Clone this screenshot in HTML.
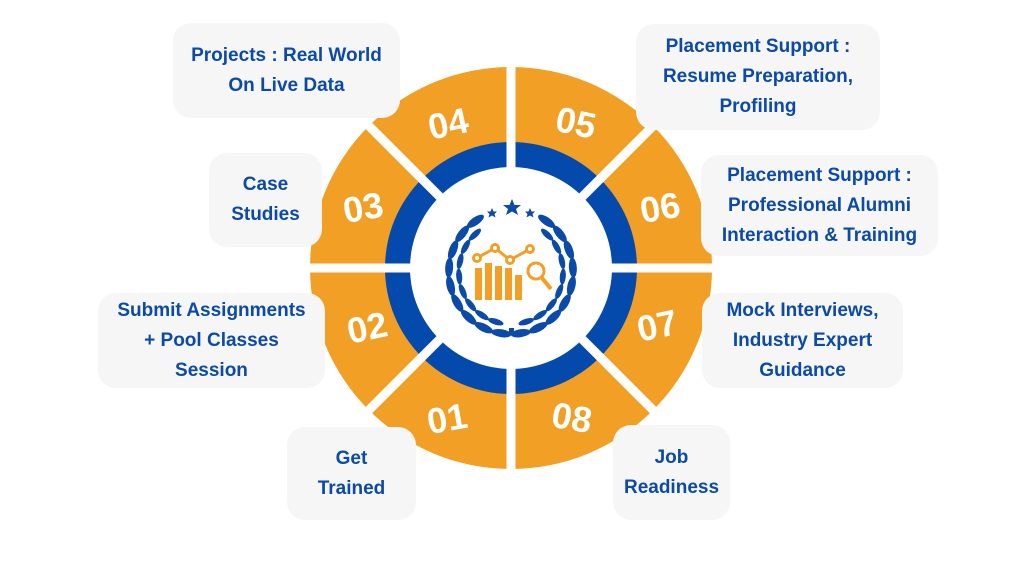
<!DOCTYPE html>
<html><head><meta charset="utf-8"><style>
html,body{margin:0;padding:0;background:#fff;}
body{width:1024px;height:576px;overflow:hidden;position:relative;font-family:"Liberation Sans",sans-serif;}
svg{position:absolute;left:0;top:0;}
.b{position:absolute;background:#f6f6f6;border-radius:18px;color:#0b4aa8;font-weight:bold;font-size:19px;line-height:30px;text-align:center;display:flex;align-items:center;justify-content:center;}
</style></head><body>
<svg width="1024" height="576" viewBox="0 0 1024 576">
<circle cx="511" cy="268" r="201" fill="#f29f26"/>
<circle cx="511" cy="268" r="126" fill="#044aad"/>
<g stroke="#fff" stroke-width="9">
<line x1="511" y1="60" x2="511" y2="476"/>
<line x1="303" y1="268" x2="719" y2="268"/>
<line x1="364" y1="121" x2="658" y2="415"/>
<line x1="658" y1="121" x2="364" y2="415"/>
</g>
<circle cx="511" cy="268" r="101" fill="#fff"/>
<g fill="#fff">
<polygon points="470,186 488,177 484,194"/><polygon points="552,186 534,177 538,194"/>
<polygon points="430,227 439,209 447,225"/><polygon points="592,227 583,209 575,225"/>
<polygon points="430,309 439,327 447,311"/><polygon points="592,309 583,327 575,311"/>
<polygon points="470,350 488,359 484,342"/><polygon points="552,350 534,359 538,342"/>
</g>
<g fill="#fff" font-family="Liberation Sans,sans-serif" font-weight="bold" font-size="36" text-anchor="middle">
<text x="448" y="136" transform="rotate(-12 448 123)">04</text>
<text x="576" y="135" transform="rotate(12 576 122)">05</text>
<text x="363" y="220" transform="rotate(-10 363 207)">03</text>
<text x="660" y="220" transform="rotate(-10 660 207)">06</text>
<text x="367" y="340" transform="rotate(-12 367 327)">02</text>
<text x="657" y="338" transform="rotate(-12 657 325)">07</text>
<text x="447" y="431" transform="rotate(-10 447 418)">01</text>
<text x="572" y="430" transform="rotate(10 572 417)">08</text>
</g>
<g fill="#0b4aa8">
<polygon points="512,199 514.5,205 521,205 516,209 518,215 512,211.5 506,215 508,209 503,205 509.5,205"/>
<polygon points="492,208 493.5,211.5 497,211.5 494.5,214 495.5,217.5 492,215.5 488.5,217.5 489.5,214 487,211.5 490.5,211.5"/>
<polygon points="530,208 531.5,211.5 535,211.5 532.5,214 533.5,217.5 530,215.5 526.5,217.5 527.5,214 525,211.5 528.5,211.5"/>
</g>
<g fill="#0b4aa8" id="lv">
<ellipse cx="573" cy="272" rx="4" ry="10" transform="rotate(-55 511 272)"/>
<ellipse cx="573" cy="272" rx="4" ry="10" transform="rotate(-38 511 272)"/>
<ellipse cx="573" cy="272" rx="4" ry="10" transform="rotate(-21 511 272)"/>
<ellipse cx="573" cy="272" rx="4" ry="10" transform="rotate(-4 511 272)"/>
<ellipse cx="573" cy="272" rx="4" ry="10" transform="rotate(13 511 272)"/>
<ellipse cx="573" cy="272" rx="4" ry="10" transform="rotate(30 511 272)"/>
<ellipse cx="573" cy="272" rx="4" ry="10" transform="rotate(47 511 272)"/>
<ellipse cx="573" cy="272" rx="4" ry="10" transform="rotate(64 511 272)"/>
<ellipse cx="573" cy="272" rx="4" ry="10" transform="rotate(81 511 272)"/>
<ellipse cx="573" cy="272" rx="4" ry="10" transform="rotate(235 511 272)"/>
<ellipse cx="573" cy="272" rx="4" ry="10" transform="rotate(218 511 272)"/>
<ellipse cx="573" cy="272" rx="4" ry="10" transform="rotate(201 511 272)"/>
<ellipse cx="573" cy="272" rx="4" ry="10" transform="rotate(184 511 272)"/>
<ellipse cx="573" cy="272" rx="4" ry="10" transform="rotate(167 511 272)"/>
<ellipse cx="573" cy="272" rx="4" ry="10" transform="rotate(150 511 272)"/>
<ellipse cx="573" cy="272" rx="4" ry="10" transform="rotate(133 511 272)"/>
<ellipse cx="573" cy="272" rx="4" ry="10" transform="rotate(116 511 272)"/>
<ellipse cx="573" cy="272" rx="4" ry="10" transform="rotate(99 511 272)"/>
<ellipse cx="563" cy="272" rx="3" ry="8" transform="rotate(-46 511 272)"/>
<ellipse cx="563" cy="272" rx="3" ry="8" transform="rotate(-29 511 272)"/>
<ellipse cx="563" cy="272" rx="3" ry="8" transform="rotate(-12 511 272)"/>
<ellipse cx="563" cy="272" rx="3" ry="8" transform="rotate(5 511 272)"/>
<ellipse cx="563" cy="272" rx="3" ry="8" transform="rotate(22 511 272)"/>
<ellipse cx="563" cy="272" rx="3" ry="8" transform="rotate(39 511 272)"/>
<ellipse cx="563" cy="272" rx="3" ry="8" transform="rotate(56 511 272)"/>
<ellipse cx="563" cy="272" rx="3" ry="8" transform="rotate(73 511 272)"/>
<ellipse cx="563" cy="272" rx="3" ry="8" transform="rotate(226 511 272)"/>
<ellipse cx="563" cy="272" rx="3" ry="8" transform="rotate(209 511 272)"/>
<ellipse cx="563" cy="272" rx="3" ry="8" transform="rotate(192 511 272)"/>
<ellipse cx="563" cy="272" rx="3" ry="8" transform="rotate(175 511 272)"/>
<ellipse cx="563" cy="272" rx="3" ry="8" transform="rotate(158 511 272)"/>
<ellipse cx="563" cy="272" rx="3" ry="8" transform="rotate(141 511 272)"/>
<ellipse cx="563" cy="272" rx="3" ry="8" transform="rotate(124 511 272)"/>
<ellipse cx="563" cy="272" rx="3" ry="8" transform="rotate(107 511 272)"/>
<rect x="509" y="328" width="5" height="7"/>
</g>
<g fill="#f29f26">
<rect x="475" y="268" width="7" height="32"/><rect x="485" y="263" width="7" height="37"/>
<rect x="495" y="266" width="7" height="34"/><rect x="505" y="268" width="7" height="32"/>
<rect x="515" y="275" width="7" height="25"/>
</g>
<g fill="none" stroke="#f29f26" stroke-width="3">
<polyline points="477,258 495,248 510,260 530,249"/>
<circle cx="477" cy="258" r="3.5" fill="#fff"/><circle cx="495" cy="248" r="3.5" fill="#fff"/>
<circle cx="510" cy="260" r="3.5" fill="#fff"/><circle cx="530" cy="249" r="3.5" fill="#fff"/>
<circle cx="536" cy="271" r="8" fill="#fff"/>
<line x1="542" y1="278" x2="551" y2="289" stroke-width="4"/>
</g>
</svg>
<div class="b" style="left:173px;top:23px;width:227px;height:95px;">Projects : Real World<br>On Live Data</div>
<div class="b" style="left:636px;top:24px;width:244px;height:106px;">Placement Support :<br>Resume Preparation,<br>Profiling</div>
<div class="b" style="left:209px;top:153px;width:113px;height:94px;">Case<br>Studies</div>
<div class="b" style="left:701px;top:155px;width:237px;height:101px;">Placement Support :<br>Professional Alumni<br>Interaction &amp; Training</div>
<div class="b" style="left:98px;top:293px;width:227px;height:95px;">Submit Assignments<br>+ Pool Classes<br>Session</div>
<div class="b" style="left:702px;top:293px;width:201px;height:95px;">Mock Interviews,<br>Industry Expert<br>Guidance</div>
<div class="b" style="left:287px;top:427px;width:129px;height:93px;">Get<br>Trained</div>
<div class="b" style="left:613px;top:425px;width:117px;height:95px;">Job<br>Readiness</div>
</body></html>
